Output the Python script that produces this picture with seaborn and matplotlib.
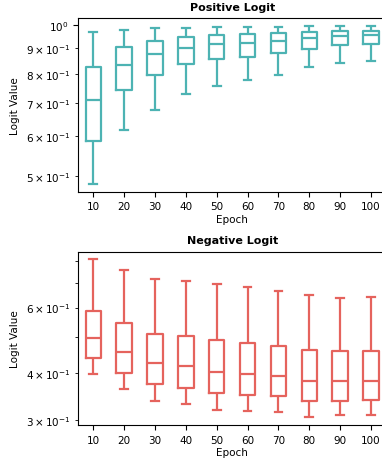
import numpy as np
import pandas as pd
import matplotlib
matplotlib.use("Agg")
import matplotlib.pyplot as plt
import seaborn as sns

# epochs on the x axis
epochs = [10, 20, 30, 40, 50, 60, 70, 80, 90, 100]

# positive logit: min, q1, median, q3, max per epoch
pos_min = [0.482, 0.618, 0.678, 0.729, 0.755, 0.776, 0.796, 0.823, 0.842, 0.846]
pos_q1 = [0.586, 0.741, 0.794, 0.836, 0.855, 0.864, 0.879, 0.897, 0.913, 0.915]
pos_med = [0.708, 0.834, 0.874, 0.902, 0.915, 0.923, 0.930, 0.943, 0.953, 0.955]
pos_q3 = [0.825, 0.906, 0.930, 0.945, 0.955, 0.959, 0.964, 0.970, 0.974, 0.975]
pos_max = [0.967, 0.980, 0.986, 0.989, 0.992, 0.992, 0.992, 0.994, 0.995, 0.995]

# negative logit
neg_min = [0.397, 0.362, 0.336, 0.331, 0.319, 0.316, 0.315, 0.305, 0.309, 0.309]
neg_q1 = [0.439, 0.401, 0.374, 0.366, 0.354, 0.350, 0.347, 0.336, 0.337, 0.339]
neg_med = [0.496, 0.457, 0.426, 0.419, 0.404, 0.399, 0.394, 0.381, 0.381, 0.382]
neg_q3 = [0.588, 0.544, 0.511, 0.504, 0.490, 0.483, 0.474, 0.462, 0.459, 0.459]
neg_max = [0.808, 0.756, 0.714, 0.708, 0.694, 0.680, 0.666, 0.648, 0.635, 0.639]

pos_color = "#4DB3B3"
neg_color = "#E5635D"


def make_frame(mins, q1s, meds, q3s, maxs):
    """5 points per epoch so the quartiles land exactly on the read values"""
    rows = []
    for i, ep in enumerate(epochs):
        for v in (mins[i], q1s[i], meds[i], q3s[i], maxs[i]):
            rows.append({"Epoch": str(ep), "value": v})
    return pd.DataFrame(rows)


df_pos = make_frame(pos_min, pos_q1, pos_med, pos_q3, pos_max)
df_neg = make_frame(neg_min, neg_q1, neg_med, neg_q3, neg_max)

plt.rcParams['font.family'] = ['DejaVu Sans']
plt.rcParams['font.size'] = 7.5

fig = plt.figure(figsize=(3.82, 4.6), dpi=100)
ax1 = fig.add_axes([0.2037, 0.581, 0.808, 0.377])
ax2 = fig.add_axes([0.2037, 0.074, 0.808, 0.377])

for ax, df, color, title in [(ax1, df_pos, pos_color, "Positive Logit"),
                             (ax2, df_neg, neg_color, "Negative Logit")]:
    sns.boxplot(data=df, x="Epoch", y="value", ax=ax, color=color,
                fill=False, width=0.5, linewidth=1.6, whis=(0, 100),
                showfliers=False, log_scale=True)
    ax.set_title(title, fontsize=8, fontweight='bold')
    ax.set_xlabel("Epoch", fontsize=7.5, labelpad=2)
    ax.set_ylabel("Logit Value", fontsize=7.5)
    ax.tick_params(axis='both', which='both', labelsize=7.5)

fig.savefig("out.png", dpi=100)
